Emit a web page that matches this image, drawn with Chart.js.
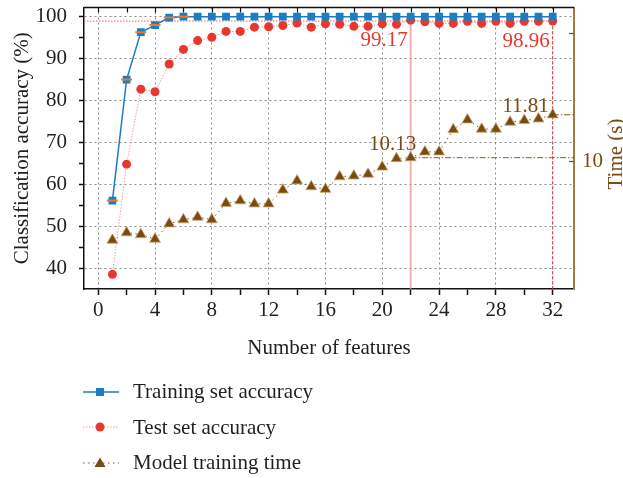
<!DOCTYPE html>
<html>
<head>
<meta charset="utf-8">
<script src="https://cdn.jsdelivr.net/npm/chart.js@4/dist/chart.umd.min.js"></script>
<style>
  html, body { margin: 0; padding: 0; background: #fff; }
  #wrap { position: relative; width: 623px; height: 478px; }
  #chart { position: absolute; left: 0; top: 0; }
  #legend { position: absolute; left: 82px; top: 374px; font-family: "Liberation Serif", serif; font-size: 21px; color: #231f20; }
  .row { display: flex; align-items: center; height: 35.5px; }
  .row svg { width: 38px; height: 16px; margin-right: 13px; }
</style>
</head>
<body>
<div id="wrap">
  <canvas id="chart" width="623" height="478"></canvas>
  <div id="legend">
    <div class="row"><svg viewBox="0 0 38 16"><line x1="1" y1="8" x2="37" y2="8" stroke="#1b7dc2" stroke-width="1.5"/><rect x="14" y="4" width="8" height="8" fill="#1b7dc2"/></svg><span>Training set accuracy</span></div>
    <div class="row"><svg viewBox="0 0 38 16"><line x1="1" y1="8" x2="37" y2="8" stroke="#f29b9b" stroke-width="1" stroke-dasharray="1.5,1.5"/><circle cx="18" cy="8" r="4.5" fill="#e8382e"/></svg><span>Test set accuracy</span></div>
    <div class="row"><svg viewBox="0 0 38 16"><line x1="1" y1="8" x2="37" y2="8" stroke="#8a5a1a" stroke-width="1" stroke-dasharray="1.5,3.5"/><polygon points="18,2.5 23.5,12 12.5,12" fill="#7a4b0e"/></svg><span>Model training time</span></div>
  </div>
</div>
<script>
// ---- data ----
const features = [1,2,3,4,5,6,7,8,9,10,11,12,13,14,15,16,17,18,19,20,21,22,23,24,25,26,27,28,29,30,31,32];
const trainAcc = [56.1,85.0,96.3,98.0,99.8,100,100,100,100,100,100,100,100,100,100,100,100,100,100,100,100,100,100,100,100,100,100,100,100,100,100,100];
const testAcc = [38.5,64.8,82.7,82.1,88.7,92.2,94.3,95.1,96.5,96.5,97.5,97.6,97.9,98.5,97.5,98.3,98.2,97.7,97.7,98.3,98.2,99.17,98.8,98.4,98.4,98.9,98.4,98.9,98.4,98.9,98.9,98.96];
const trainTime = [6.91,7.20,7.13,6.95,7.55,7.71,7.81,7.71,8.35,8.45,8.33,8.33,8.87,9.23,9.00,8.90,9.39,9.42,9.49,9.77,10.10,10.13,10.36,10.36,11.23,11.61,11.25,11.25,11.52,11.59,11.65,11.81];
const markedFeatures = [1,2,3,4,5,6];           // orange markers on training curve
const xTicks = [0,2,4,6,8,10,12,14,16,18,20,22,24,26,28,30,32];
const accTicks = [40,45,50,55,60,65,70,75,80,85,90,95,100];
const timeTicks = [5,10,15];
const bestFeature = 22, allFeature = 32;
const accLabels = [{x:22, v:99.17, t:"99.17"}, {x:32, v:98.96, t:"98.96"}];
const timeLabels = [{x:22, v:10.13, t:"10.13"}, {x:32, v:11.81, t:"11.81"}];

const X_MIN = -1, X_MAX = 33.5, A_MIN = 35, A_MAX = 102.2, T_MIN = 5, T_MAX = 16;
const FONT = '"Liberation Serif", serif';
const FS = 21;
const BROWN = '#7a4b0e', AXBROWN = '#a47a42', RED = '#e8382e', BLUE = '#1b7dc2';

const pts = (xs, ys) => xs.map((x, i) => ({x, y: ys[i]}));
const accAt = x => testAcc[features.indexOf(x)];
const timeAt = x => trainTime[features.indexOf(x)];

const datasets = [
  { label: 'Training set accuracy', data: pts(features, trainAcc), yAxisID: 'y',
    borderColor: BLUE, backgroundColor: BLUE, borderWidth: 1.5, pointStyle: 'rect',
    pointRadius: 5.5, pointBorderWidth: 0, order: 2 },
  { label: 'marks', data: pts(markedFeatures, markedFeatures.map(x => trainAcc[features.indexOf(x)])), yAxisID: 'y',
    showLine: false, pointStyle: 'line', pointRadius: 5.5, borderColor: '#f07528', pointBorderWidth: 2, order: 1 },
  { label: 'Test set accuracy', data: pts(features, testAcc), yAxisID: 'y',
    borderColor: '#f29b9b', backgroundColor: RED, borderWidth: 1, borderDash: [1.5, 1.5],
    pointStyle: 'circle', pointRadius: 4.5, pointBorderWidth: 0, order: 3 },
  { label: 'Model training time', data: pts(features, trainTime), yAxisID: 'y2',
    borderColor: '#8a5a1a', backgroundColor: BROWN, borderWidth: 1, borderDash: [1.5, 3.5],
    pointStyle: 'triangle', pointRadius: 6.3, pointBorderWidth: 0.8, pointBorderColor: '#c9a97a', order: 4 },
  // reference lines
  { label: 'ref-h-acc', data: [{x: X_MIN, y: accAt(allFeature)}, {x: allFeature, y: accAt(allFeature)}], yAxisID: 'y',
    borderColor: '#f06060', borderWidth: 1, borderDash: [1.5, 1.5], pointRadius: 0, order: 10 },
  { label: 'ref-v-best', data: [{x: bestFeature, y: accAt(bestFeature)}, {x: bestFeature, y: A_MIN}], yAxisID: 'y',
    borderColor: 'rgba(238,150,150,0.75)', borderWidth: 2, pointRadius: 0, order: 11 },
  { label: 'ref-v-all', data: [{x: allFeature, y: accAt(allFeature)}, {x: allFeature, y: A_MIN}], yAxisID: 'y',
    borderColor: '#e03a3a', borderWidth: 1, borderDash: [3, 2], pointRadius: 0, order: 10 },
  { label: 'ref-t-best', data: [{x: bestFeature, y: timeAt(bestFeature)}, {x: X_MAX, y: timeAt(bestFeature)}], yAxisID: 'y2',
    borderColor: '#8a5a1a', borderWidth: 1, borderDash: [6, 2, 1.5, 2], pointRadius: 0, order: 10 },
  { label: 'ref-t-all', data: [{x: allFeature, y: timeAt(allFeature)}, {x: X_MAX, y: timeAt(allFeature)}], yAxisID: 'y2',
    borderColor: '#8a5a1a', borderWidth: 1, borderDash: [6, 2, 1.5, 2], pointRadius: 0, order: 10 }
];

const zeroPad = s => { s.paddingTop = 0; s.paddingBottom = 0; s.paddingLeft = 0; s.paddingRight = 0; };

const framePlugin = {
  id: 'frame',
  afterDatasetsDraw(chart) {
    const {ctx, chartArea: a, scales} = chart;
    ctx.save();
    // top border
    ctx.strokeStyle = '#111'; ctx.lineWidth = 1.5;
    ctx.beginPath(); ctx.moveTo(a.left, a.top); ctx.lineTo(a.right, a.top); ctx.stroke();
    // inward ticks on top
    ctx.lineWidth = 1.2;
    xTicks.forEach(v => {
      const px = Math.round(scales.x.getPixelForValue(v)) + 0.5;
      ctx.beginPath(); ctx.moveTo(px, a.top); ctx.lineTo(px, a.top + 5); ctx.stroke();
    });
    // inward ticks on right axis
    ctx.strokeStyle = '#6b4a1e'; ctx.lineWidth = 1.2;
    timeTicks.forEach(v => {
      if (v <= T_MIN) return;
      const py = Math.round(scales.y2.getPixelForValue(v)) + 0.5;
      ctx.beginPath(); ctx.moveTo(a.right - 5, py); ctx.lineTo(a.right, py); ctx.stroke();
    });
    // annotations
    ctx.font = FS + 'px ' + FONT;
    ctx.textBaseline = 'middle';
    ctx.fillStyle = RED; ctx.textAlign = 'right';
    accLabels.forEach(l => {
      ctx.fillText(l.t, scales.x.getPixelForValue(l.x) - 3, scales.y.getPixelForValue(l.v) + 20);
    });
    ctx.fillStyle = '#7a4b12';
    timeLabels.forEach((l, i) => {
      const px = scales.x.getPixelForValue(l.x), py = scales.y2.getPixelForValue(l.v);
      if (i === 0) { ctx.textAlign = 'center'; ctx.fillText(l.t, px - 18, py - 13); }
      else { ctx.textAlign = 'right'; ctx.fillText(l.t, px - 4, py - 8); }
    });
    // right axis title (reads bottom to top)
    ctx.translate(616, 154);
    ctx.rotate(-Math.PI / 2);
    ctx.textAlign = 'center';
    ctx.fillStyle = '#7a4b12';
    ctx.fillText('Time (s)', 0, 0);
    ctx.restore();
  }
};

new Chart(document.getElementById('chart'), {
  type: 'line',
  data: { datasets },
  options: {
    responsive: false,
    animation: false,
    events: [],
    layout: { padding: { top: 5, left: 0, right: 0, bottom: 117 } },
    plugins: { legend: { display: false }, tooltip: { enabled: false } },
    scales: {
      x: {
        type: 'linear', position: 'bottom', min: X_MIN, max: X_MAX,
        afterBuildTicks: s => { s.ticks = xTicks.map(v => ({value: v})); },
        afterFit: s => { s.height = 72; zeroPad(s); },
        ticks: { autoSkip: false, maxRotation: 0, padding: 3, color: '#231f20',
                 font: { family: FONT, size: FS },
                 callback: v => (v % 4 === 0 ? String(v) : '') },
        grid: { color: c => (c.tick && c.tick.value % 4 === 0 ? '#8a8a8a' : 'rgba(0,0,0,0)'),
                lineWidth: 1, tickColor: '#111', tickWidth: 1.5, tickLength: 6 },
        border: { color: '#111', width: 1.5, dash: [2, 3] },
        title: { display: true, text: 'Number of features', color: '#231f20',
                 font: { family: FONT, size: FS }, padding: { top: 0, bottom: 0 } }
      },
      y: {
        type: 'linear', position: 'left', min: A_MIN, max: A_MAX,
        afterBuildTicks: s => { s.ticks = accTicks.map(v => ({value: v})); },
        afterFit: s => { s.width = 84; zeroPad(s); },
        ticks: { autoSkip: false, padding: 12, color: '#231f20',
                 font: { family: FONT, size: FS },
                 callback: v => (v % 10 === 0 ? String(v) : '') },
        grid: { color: c => (c.tick && c.tick.value % 10 === 0 ? '#8a8a8a' : 'rgba(0,0,0,0)'),
                lineWidth: 1, tickColor: '#111', tickWidth: 1.5, tickLength: 5 },
        border: { color: '#111', width: 1.5, dash: [2, 3] },
        title: { display: true, text: 'Classification accuracy (%)', color: '#231f20',
                 font: { family: FONT, size: FS }, padding: { top: 10, bottom: 0 } }
      },
      y2: {
        type: 'linear', position: 'right', min: T_MIN, max: T_MAX,
        afterBuildTicks: s => { s.ticks = timeTicks.map(v => ({value: v})); },
        afterFit: s => { s.width = 49; zeroPad(s); },
        ticks: { autoSkip: false, padding: 8, color: '#7a4b12',
                 font: { family: FONT, size: FS },
                 callback: v => (v === 10 ? '10' : '') },
        grid: { drawOnChartArea: false, drawTicks: false },
        border: { color: AXBROWN, width: 2 },
        title: { display: false }
      }
    }
  },
  plugins: [framePlugin]
});
</script>
</body>
</html>
